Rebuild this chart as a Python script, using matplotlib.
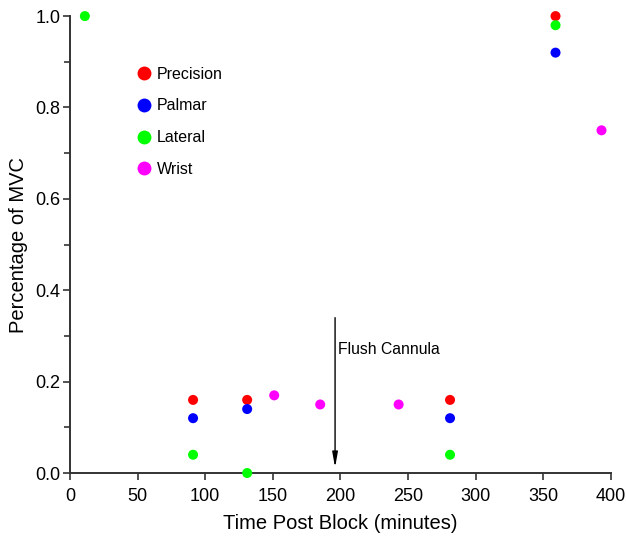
import matplotlib as mpl
mpl.use('Agg')
import matplotlib.pyplot as plt
from matplotlib.ticker import MultipleLocator
from matplotlib.lines import Line2D

plt.rcParams['font.family'] = ['Liberation Sans', 'DejaVu Sans']

# data
precision_x = [91, 131, 281, 359]
precision_y = [0.16, 0.16, 0.16, 1.00]
palmar_x = [91, 131, 281, 359]
palmar_y = [0.12, 0.14, 0.12, 0.92]
lateral_x = [11, 91, 131, 281, 359]
lateral_y = [1.00, 0.04, 0.00, 0.04, 0.98]
wrist_x = [151, 185, 243, 393]
wrist_y = [0.17, 0.15, 0.15, 0.75]

series = [
    ('Precision', precision_x, precision_y, '#ff0000'),
    ('Palmar', palmar_x, palmar_y, '#0000ff'),
    ('Lateral', lateral_x, lateral_y, '#00ff00'),
    ('Wrist', wrist_x, wrist_y, '#ff00ff'),
]

flush_x = 196
flush_top = 0.34
flush_bottom = 0.012

fig = plt.figure(figsize=(6.26, 5.36), dpi=100)
ax = fig.add_axes([0.1118, 0.1175, 0.976 - 0.1118, 0.970 - 0.1175])

for name, xs, ys, col in series:
    ax.scatter(xs, ys, s=52, color=col, edgecolors='none', clip_on=False, zorder=3)

ax.annotate('', xy=(flush_x, flush_bottom), xytext=(flush_x, flush_top),
            arrowprops=dict(arrowstyle='-|>,head_length=0.9,head_width=0.16',
                            color='black', lw=1.0, shrinkA=0, shrinkB=0))
ax.text(flush_x + 2, 0.27, 'Flush Cannula', fontsize=11.3, va='center', ha='left')

handles = [Line2D([], [], ls='none', marker='o', markersize=10, color=c,
                  markeredgewidth=0) for _, _, _, c in series]
labels = [s[0] for s in series]
ax.legend(handles, labels, loc='upper left', bbox_to_anchor=(0.107, 0.907),
          frameon=False, fontsize=11.5, handletextpad=0.31, labelspacing=1.05,
          handlelength=1.0, borderpad=0)

ax.set_xlim(0, 400)
ax.set_ylim(0, 1.0)
ax.xaxis.set_major_locator(MultipleLocator(50))
ax.yaxis.set_major_locator(MultipleLocator(0.2))
ax.yaxis.set_minor_locator(MultipleLocator(0.1))
ax.yaxis.set_major_formatter(mpl.ticker.FormatStrFormatter('%.1f'))

for side in ['top', 'right']:
    ax.spines[side].set_visible(False)
for side in ['left', 'bottom']:
    ax.spines[side].set_linewidth(1.4)
    ax.spines[side].set_color('#333333')

ax.tick_params(which='both', direction='out', width=1.2, color='#333333',
               labelsize=13)
ax.tick_params(which='major', length=5)
ax.tick_params(which='minor', length=4)
ax.tick_params(axis='y', pad=2)
ax.tick_params(axis='x', pad=5.5)

ax.set_xlabel('Time Post Block (minutes)', fontsize=14.5, labelpad=7)
ax.set_ylabel('Percentage of MVC', fontsize=14.5, labelpad=5)

fig.savefig('out.png', dpi=100)
